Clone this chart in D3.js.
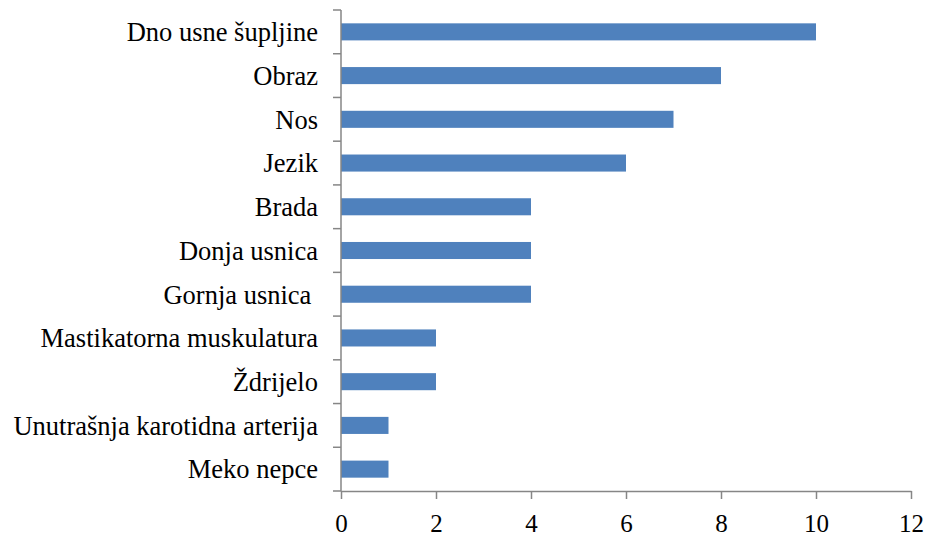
<!DOCTYPE html>
<html>
<head>
<meta charset="utf-8">
<script src="https://cdn.jsdelivr.net/npm/d3@7"></script>
<style>
  body { margin: 0; background: #fff; }
</style>
</head>
<body>
<svg></svg>
<script>
var categories = ["Dno usne šupljine", "Obraz", "Nos", "Jezik", "Brada", "Donja usnica",
    "Gornja usnica\u00a0", "Mastikatorna muskulatura", "Ždrijelo", "Unutrašnja karotidna arterija", "Meko nepce"];
var values = [10, 8, 7, 6, 4, 4, 4, 2, 2, 1, 1];
var xTicks = [0, 2, 4, 6, 8, 10, 12];

var width = 928, height = 537;
var margin = { top: 10, right: 17, bottom: 46, left: 341 };
var serif = "Liberation Serif";

var svg = d3.select("svg")
    .attr("width", width)
    .attr("height", height);

var x = d3.scaleLinear()
    .domain([0, 12])
    .range([margin.left, width - margin.right]);

var y = d3.scaleBand()
    .domain(categories)
    .range([margin.top, height - margin.bottom])
    .paddingInner(0.61)
    .paddingOuter(0.305);

// bars
svg.append("g")
    .selectAll("rect")
    .data(values)
    .enter().append("rect")
    .attr("x", x(0))
    .attr("y", function (d, i) { return y(categories[i]); })
    .attr("width", function (d) { return x(d) - x(0); })
    .attr("height", y.bandwidth())
    .attr("fill", "#4F81BD");

var axisColor = "#868686";

// x axis
var xAxis = svg.append("g")
    .attr("transform", "translate(0," + (height - margin.bottom) + ")")
    .call(d3.axisBottom(x).tickValues(xTicks).tickSize(8).tickPadding(15).tickSizeOuter(0));
xAxis.select(".domain").attr("stroke", axisColor).attr("stroke-width", 1.5);
xAxis.selectAll(".tick line").attr("stroke", axisColor).attr("stroke-width", 1.5);
xAxis.selectAll(".tick text")
    .attr("fill", "#000")
    .attr("font-family", serif)
    .attr("font-size", 25);

// y axis: ticks sit on band boundaries
var step = y.step();
var bounds = d3.range(categories.length + 1).map(function (i) { return margin.top + i * step; });
var yAxis = svg.append("g");
yAxis.append("line")
    .attr("x1", x(0)).attr("x2", x(0))
    .attr("y1", margin.top).attr("y2", height - margin.bottom)
    .attr("stroke", axisColor).attr("stroke-width", 1.5);
yAxis.selectAll(".bt")
    .data(bounds)
    .enter().append("line")
    .attr("x1", x(0) - 8).attr("x2", x(0))
    .attr("y1", function (d) { return d; }).attr("y2", function (d) { return d; })
    .attr("stroke", axisColor).attr("stroke-width", 1.5);
yAxis.selectAll("text")
    .data(categories)
    .enter().append("text")
    .attr("x", x(0) - 23)
    .attr("y", function (d) { return y(d) + y.bandwidth() / 2; })
    .attr("dy", "0.35em")
    .attr("text-anchor", "end")
    .attr("fill", "#000")
    .attr("font-family", serif)
    .attr("font-size", 26.5)
    .style("white-space", "pre")
    .text(function (d) { return d; });
</script>
</body>
</html>
